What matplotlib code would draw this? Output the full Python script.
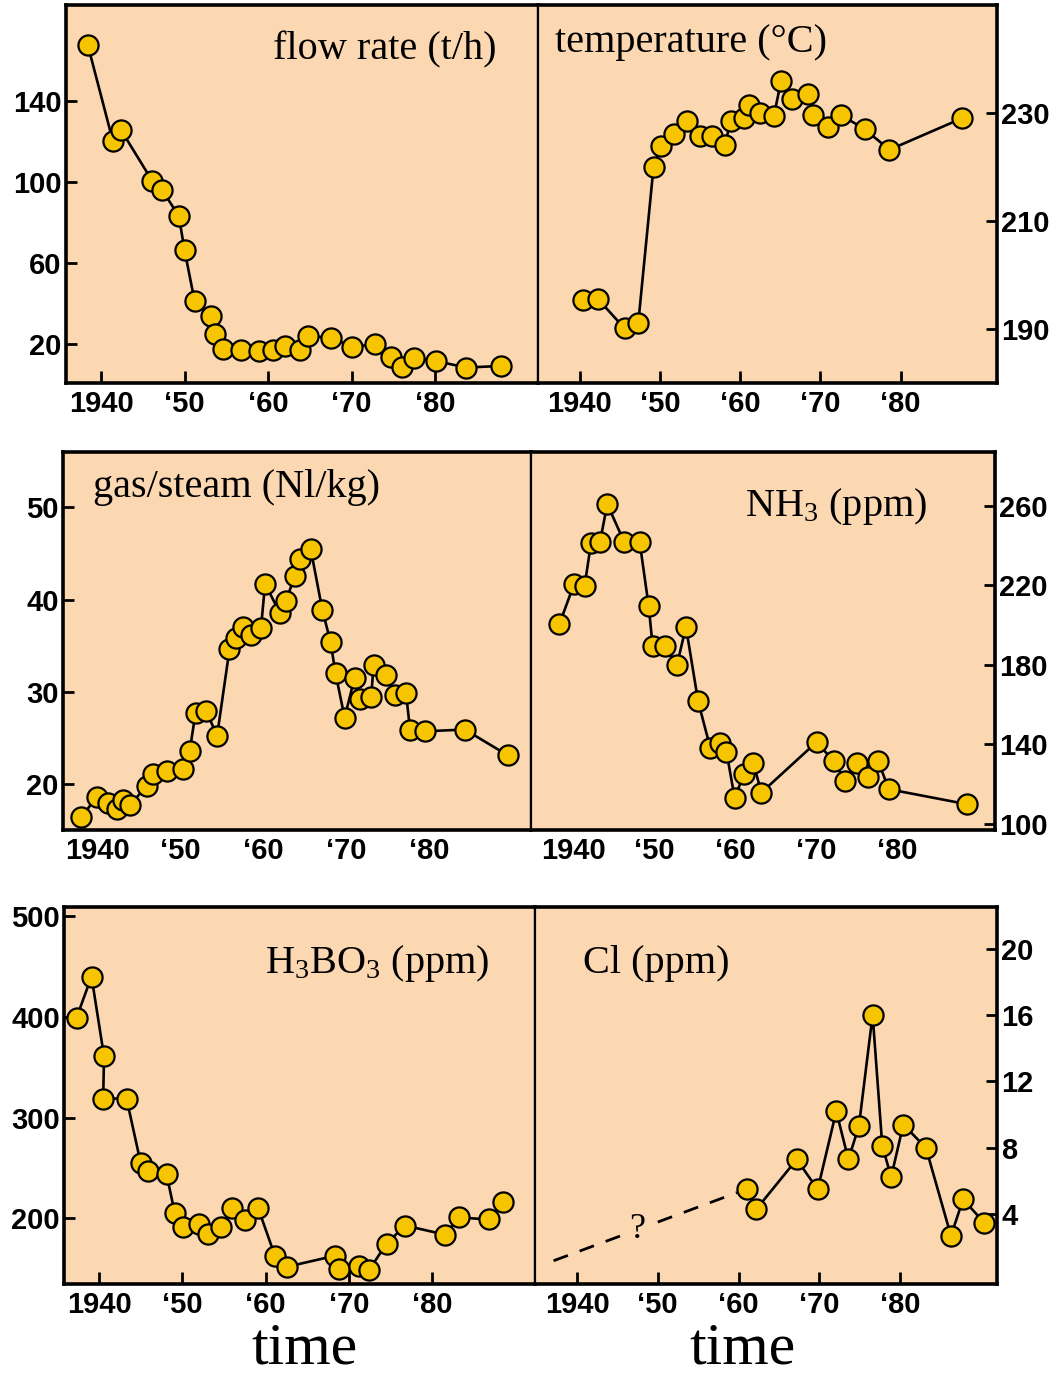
import matplotlib.pyplot as plt

# ---- data ----
flow_years = [1938.4, 1941.4, 1942.4, 1946.1, 1947.3, 1949.3, 1950.0, 1951.2, 1953.1, 1953.6,
              1954.6, 1956.8, 1958.9, 1960.6, 1962.0, 1963.8, 1964.8, 1967.5, 1970.0, 1972.8,
              1974.7, 1976.0, 1977.5, 1980.1, 1983.7, 1987.9]
flow_vals = [167.5, 120.2, 125.4, 100.6, 96.0, 83.2, 66.2, 41.2, 33.9, 25.2,
             17.9, 17.2, 16.7, 17.2, 19.2, 17.2, 24.1, 23.3, 18.9, 20.0,
             14.0, 9.1, 13.1, 11.8, 8.6, 9.4]

temp_years = [1940.4, 1942.3, 1945.6, 1947.3, 1949.2, 1950.1, 1951.7, 1953.4, 1955.0, 1956.5,
              1958.1, 1958.8, 1960.5, 1961.1, 1962.5, 1964.2, 1965.1, 1966.5, 1968.5, 1969.1,
              1971.0, 1972.6, 1975.5, 1978.6, 1987.6]
temp_vals = [195.4, 195.5, 190.1, 191.2, 220.0, 223.8, 226.1, 228.6, 225.8, 225.7,
             224.0, 228.6, 229.1, 231.5, 230.0, 229.5, 236.0, 232.6, 233.5, 229.7,
             227.4, 229.6, 227.0, 223.2, 229.0]

gas_years = [1938.0, 1939.9, 1941.2, 1942.3, 1943.1, 1943.9, 1945.9, 1946.7, 1948.4, 1950.3,
             1951.1, 1951.8, 1953.1, 1954.4, 1955.9, 1956.7, 1957.5, 1958.5, 1959.7, 1960.2,
             1962.0, 1962.7, 1963.8, 1964.4, 1965.7, 1967.1, 1968.1, 1968.7, 1969.8, 1971.0,
             1971.7, 1973.0, 1973.3, 1974.8, 1975.9, 1977.2, 1977.7, 1979.5, 1984.3, 1989.5]
gas_vals = [16.4, 18.6, 17.9, 17.3, 18.3, 17.7, 19.8, 21.1, 21.4, 21.6,
            23.6, 27.7, 27.9, 25.2, 34.6, 35.8, 37.0, 36.2, 36.9, 41.7,
            38.5, 39.8, 42.6, 44.4, 45.5, 38.9, 35.4, 32.0, 27.2, 31.5,
            29.2, 29.4, 32.9, 31.8, 29.6, 29.9, 25.9, 25.7, 25.9, 23.1]

nh3_years = [1938.3, 1940.1, 1941.4, 1942.2, 1943.3, 1944.2, 1946.3, 1948.2, 1949.3, 1949.8,
             1951.3, 1952.8, 1953.9, 1955.4, 1956.9, 1958.1, 1958.9, 1959.9, 1961.1, 1962.2,
             1963.2, 1970.0, 1972.1, 1973.5, 1975.0, 1976.4, 1977.6, 1978.9, 1988.5]
nh3_vals = [200.5, 220.5, 219.5, 241.2, 241.7, 260.8, 241.7, 241.7, 209.7, 189.5,
            189.5, 180.0, 199.2, 161.7, 138.3, 140.5, 136.3, 113.3, 125.3, 130.8,
            115.8, 141.2, 131.7, 121.7, 130.8, 123.8, 131.7, 117.5, 110.0]

boric_years = [1937.3, 1939.1, 1940.6, 1940.5, 1943.3, 1945.0, 1945.9, 1948.1, 1949.1, 1950.1,
               1952.0, 1953.1, 1954.6, 1956.0, 1957.5, 1959.1, 1961.1, 1962.5, 1968.3, 1968.8,
               1971.2, 1972.4, 1974.5, 1976.7, 1981.5, 1983.2, 1986.8, 1988.5]
boric_vals = [399, 440, 361, 319, 319, 255, 247, 244, 205, 192,
              195, 185, 192, 210, 198, 210, 163, 152, 163, 150,
              153, 149, 175, 193, 184, 201, 199, 216]

cl_years = [1961.0, 1962.2, 1967.2, 1969.8, 1972.1, 1973.6, 1974.9, 1976.6, 1977.8, 1978.9,
            1980.4, 1983.2, 1986.3, 1987.8, 1990.4]
cl_vals = [5.5, 4.3, 7.3, 5.5, 10.2, 7.3, 9.3, 16.0, 8.1, 6.25,
           9.4, 8.0, 2.7, 4.9, 3.5]
cl_guess_years = [1937.1, 1959.8]
cl_guess_vals = [1.2, 5.3]

year_ticks = [1940, 1950, 1960, 1970, 1980]
year_labels = ['1940', '\u201850', '\u201860', '\u201870', '\u201880']

# ---- style ----
panel_color = '#FCD8B2'
dot_color = '#F7C500'
serif = ['Liberation Serif', 'DejaVu Serif']
tick_font = ['Liberation Sans', 'DejaVu Sans']
plt.rcParams['mathtext.fontset'] = 'custom'
plt.rcParams['mathtext.rm'] = 'Liberation Serif'
plt.rcParams['mathtext.it'] = 'Liberation Serif:italic'

W, H = 1057, 1376
fig = plt.figure(figsize=(W / 100, H / 100), dpi=100)


def add_ax(x0, x1, y0, y1):
    # pixel box -> figure fraction
    return fig.add_axes([x0 / W, 1 - y1 / H, (x1 - x0) / W, (y1 - y0) / H])


def style(ax, side, xlim, ylim, yticks, xtick_len=9):
    ax.set_facecolor(panel_color)
    ax.set_xlim(xlim)
    ax.set_ylim(ylim)
    ax.set_xticks(year_ticks)
    ax.set_xticklabels(year_labels)
    ax.set_yticks(yticks)
    ax.set_yticklabels([str(v) for v in yticks])
    for s in ax.spines.values():
        s.set_linewidth(2.6)
    if side == 'left':
        ax.spines['right'].set_linewidth(1.6)
        ax.tick_params(axis='y', left=True, right=False, labelleft=True, labelright=False)
    else:
        ax.spines['left'].set_linewidth(1.6)
        ax.yaxis.tick_right()
    ax.tick_params(axis='y', direction='in', length=8, width=2, pad=3)
    ax.tick_params(axis='x', direction='in', length=xtick_len, width=2, pad=5)
    for lab in ax.get_xticklabels() + ax.get_yticklabels():
        lab.set_family(tick_font)
        lab.set_fontweight('bold')
        lab.set_fontsize(21)


def series(ax, xs, ys):
    ax.plot(xs, ys, color='black', lw=1.9, marker='o', ms=14.5, mfc=dot_color,
            mec='black', mew=1.6, clip_on=False, zorder=3)


def title(ax, x, y, txt, ha):
    ax.text(x, y, txt, transform=ax.transAxes, ha=ha, va='center',
            family=serif, fontsize=29)


left_x = (1935.8, 1992.3)
right_x = (1934.8, 1992.0)

# row 1
ax1 = add_ax(66, 538, 5, 383)
style(ax1, 'left', left_x, (1, 187), [20, 60, 100, 140])
series(ax1, flow_years, flow_vals)
title(ax1, 0.913, 0.881, 'flow rate (t/h)', 'right')

ax2 = add_ax(538, 997, 5, 383)
style(ax2, 'right', right_x, (180, 250), [190, 210, 230])
series(ax2, temp_years, temp_vals)
title(ax2, 0.037, 0.902, 'temperature (\u00b0C)', 'left')

# row 2 (no x tick marks)
ax3 = add_ax(63, 531, 452, 830)
style(ax3, 'left', left_x, (15, 56), [20, 30, 40, 50], xtick_len=0)
series(ax3, gas_years, gas_vals)
title(ax3, 0.064, 0.907, 'gas/steam (Nl/kg)', 'left')

ax4 = add_ax(531, 995, 452, 830)
style(ax4, 'right', right_x, (97, 287), [100, 140, 180, 220, 260], xtick_len=0)
series(ax4, nh3_years, nh3_vals)
title(ax4, 0.853, 0.857, r'NH$_3$ (ppm)', 'right')

# row 3
ax5 = add_ax(64, 535, 907, 1284)
style(ax5, 'left', left_x, (135, 509), [200, 300, 400, 500])
series(ax5, boric_years, boric_vals)
title(ax5, 0.904, 0.851, r'H$_3$BO$_3$ (ppm)', 'right')

ax6 = add_ax(535, 997, 907, 1284)
style(ax6, 'right', right_x, (-0.2, 22.5), [4, 8, 12, 16, 20])
ax6.plot(cl_guess_years, cl_guess_vals, color='black', lw=2, dashes=(5.5, 4.5), zorder=2)
ax6.text(1947.4, 3.1, '?', ha='center', va='center', family=serif, fontsize=26, zorder=2.5,
         bbox=dict(facecolor=panel_color, edgecolor='none', pad=2))
series(ax6, cl_years, cl_vals)
title(ax6, 0.104, 0.851, 'Cl (ppm)', 'left')

fig.text(305 / W, 1 - 1376 / H, 'time', ha='center', va='bottom', family=serif, fontsize=43)
fig.text(743 / W, 1 - 1376 / H, 'time', ha='center', va='bottom', family=serif, fontsize=43)

fig.savefig('out.png', dpi=100, facecolor='white')
